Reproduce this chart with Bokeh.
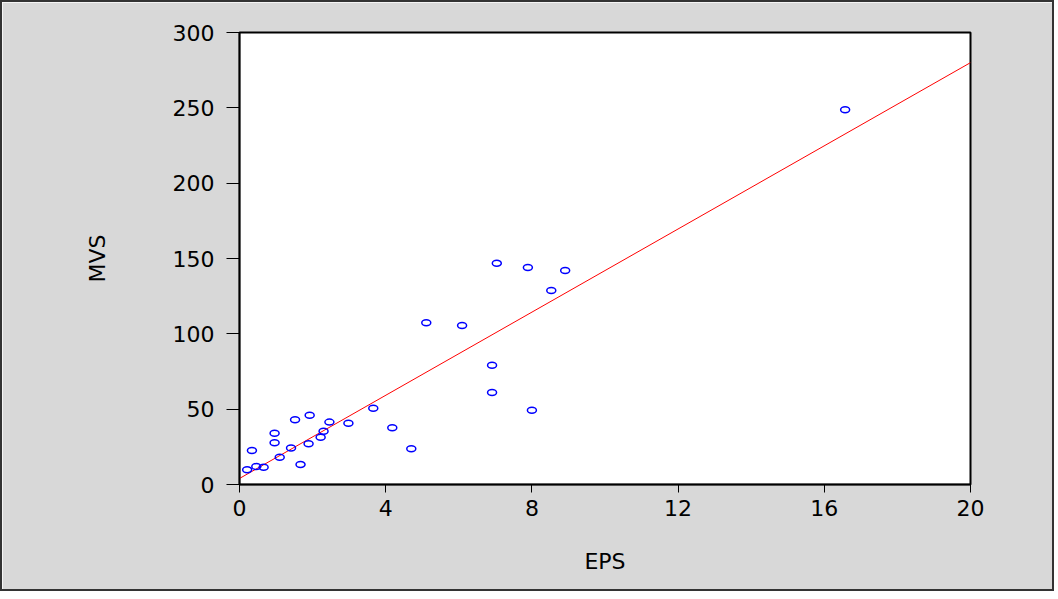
from bokeh.plotting import figure
from bokeh.models import FixedTicker, Range1d
from bokeh.embed import file_html
from bokeh.resources import INLINE

# Data
eps = [0.21, 0.34, 0.46, 0.66, 0.96, 0.96, 1.10, 1.41, 1.52, 1.67,
       1.89, 1.92, 2.22, 2.30, 2.46, 2.98, 3.66, 4.18, 4.70,
       5.11, 6.09, 6.91, 6.91, 7.04, 7.89, 8.00, 8.53, 8.91, 16.57]
mvs = [9.8, 22.6, 11.9, 11.5, 34.0, 27.7, 18.1, 24.3, 42.9, 13.3,
       27.0, 46.0, 31.4, 35.4, 41.4, 40.7, 50.6, 37.6, 23.7,
       107.3, 105.5, 79.2, 61.0, 146.9, 144.0, 49.3, 128.7, 142.0, 248.8]
fit_x = [0, 20]
fit_intercept = 4.0
fit_slope = 13.8
fit_y = [fit_intercept + fit_slope * v for v in fit_x]
x_ticks = [0, 4, 8, 12, 16, 20]
y_ticks = [0, 50, 100, 150, 200, 250, 300]

FONT = "DejaVu Sans"
GRAY = "#d8d8d8"

p = figure(
    frame_width=731, frame_height=452,
    min_border_left=237, min_border_top=30, min_border_right=82, min_border_bottom=105,
    x_range=Range1d(0, 20), y_range=Range1d(0, 300),
    output_backend="svg", toolbar_location=None,
)
p.background_fill_color = "white"
p.border_fill_color = GRAY
p.outline_line_color = "black"
p.outline_line_width = 2
p.xgrid.visible = False
p.ygrid.visible = False
p.styles = {"border": "2px solid #333"}

p.line(fit_x, fit_y, line_color="#ff0000", line_width=1)
p.ellipse(eps, mvs, width=9, height=6, width_units="screen", height_units="screen",
          fill_color=None, line_color="#0000ff", line_width=1.5)

for ax, ticks, tout, lstand, astand, label in (
    (p.xaxis[0], x_ticks, 8, 7, 30, "EPS"),
    (p.yaxis[0], y_ticks, 13, 12, 60, "MVS"),
):
    ax.ticker = FixedTicker(ticks=ticks)
    ax.minor_tick_line_color = None
    ax.major_tick_in = 0
    ax.major_tick_out = tout
    ax.major_tick_line_color = "black"
    ax.axis_line_color = "black"
    ax.axis_line_width = 1.5
    ax.major_label_standoff = lstand
    ax.major_label_text_font = FONT
    ax.major_label_text_font_size = "22px"
    ax.major_label_text_color = "black"
    ax.axis_label = label
    ax.axis_label_standoff = astand
    ax.axis_label_text_font = FONT
    ax.axis_label_text_font_size = "22px"
    ax.axis_label_text_font_style = "normal"
    ax.axis_label_text_color = "black"

open("out.html", "w").write(file_html(p, INLINE))
